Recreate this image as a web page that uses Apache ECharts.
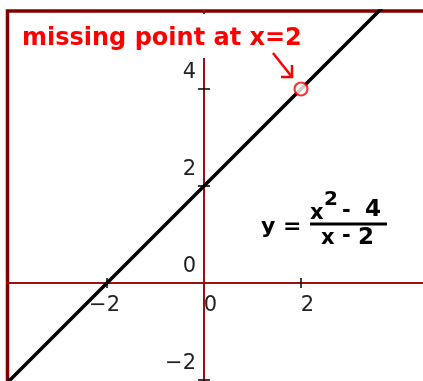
<!DOCTYPE html>
<html>
<head>
<meta charset="utf-8">
<script src="https://cdn.jsdelivr.net/npm/echarts@6/dist/echarts.min.js"></script>
<style>
    html, body { margin: 0; padding: 0; background: #fff; }
    #chartContainer { width: 423px; height: 381px; }
</style>
</head>
<body>
<div id="chartContainer"></div>
<script>
'use strict';
// y = (x^2 - 4) / (x - 2) is the line y = x + 2 with a hole at x = 2
const lineX = [-4.2, 2, 4];
const lineY = [-2.2, 4, 6];
const holeX = [2];
const holeY = [4];
const xTicks = [-2, 2];
const yTicks = [-2, 2, 4];
const xLabels = [-2, 0, 2];
const yLabels = [-2, 0, 2, 4];
const xRange = [-4.052, 4.608];
const yRange = [-2.103, 5.608];

let initChart = (function() {
    let chartContainer = document.getElementById('chartContainer');
    let demoChart = echarts.init(chartContainer);

    let fmt = function(v) {
        return v < 0 ? '\u2212' + Math.abs(v) : String(v);
    };
    let labelFont = 'DejaVu Sans';
    let axisRed = '#9b1111';

    // grid box in pixels; axes are pulled in onto x = 0 / y = 0 with negative offsets
    let gridLeft = 7.5, gridTop = 11, gridW = 420, gridH = 374;
    let zeroX = gridW * (0 - xRange[0]) / (xRange[1] - xRange[0]);
    let zeroY = gridH * (yRange[1] - 0) / (yRange[1] - yRange[0]);

    let option = {
        backgroundColor: '#fff',
        animation: false,
        title: {
            text: 'missing point at x=2',
            left: 18,
            top: 14,
            padding: [13, 4, 7, 4],
            backgroundColor: '#fff',
            textStyle: {
                color: '#ff0000',
                fontWeight: 'bold',
                fontFamily: labelFont,
                fontSize: 24
            }
        },
        grid: {
            left: gridLeft,
            top: gridTop,
            width: gridW,
            height: gridH,
            containLabel: false,
            outerBoundsMode: 'none',
            show: true,
            borderColor: '#800000',
            borderWidth: 3.5,
            backgroundColor: 'transparent'
        },
        xAxis: [{
            type: 'value',
            min: xRange[0],
            max: xRange[1],
            position: 'bottom',
            offset: -(gridH - zeroY),
            axisLine: {
                onZero: false,
                lineStyle: { color: axisRed, width: 2 }
            },
            axisTick: {
                customValues: xTicks,
                length: 5,
                lineStyle: { color: '#000', width: 1.5 }
            },
            axisLabel: {
                customValues: xLabels,
                margin: 12,
                align: 'left',
                formatter: function(v) { return '{t|' + fmt(v) + '}'; },
                rich: {
                    t: {
                        width: 13,
                        align: 'right',
                        fontSize: 21,
                        fontFamily: labelFont,
                        color: '#222'
                    }
                }
            },
            splitLine: { show: false }
        }, {
            type: 'value',
            min: xRange[0],
            max: xRange[1],
            position: 'top',
            offset: -zeroY,
            axisLine: { show: false, onZero: false },
            axisTick: {
                customValues: xTicks,
                length: 5,
                lineStyle: { color: '#000', width: 1.5 }
            },
            axisLabel: { show: false },
            splitLine: { show: false }
        }],
        yAxis: [{
            type: 'value',
            min: yRange[0],
            max: yRange[1],
            position: 'left',
            offset: -zeroX,
            axisLine: {
                onZero: false,
                lineStyle: { color: axisRed, width: 2 }
            },
            axisTick: {
                customValues: yTicks,
                length: 6,
                lineStyle: { color: '#000', width: 1.5 }
            },
            axisLabel: {
                customValues: yLabels,
                margin: 8,
                verticalAlign: 'bottom',
                lineHeight: 32,
                fontSize: 21,
                fontFamily: labelFont,
                color: '#222',
                formatter: fmt
            },
            splitLine: { show: false }
        }, {
            type: 'value',
            min: yRange[0],
            max: yRange[1],
            position: 'right',
            offset: -(gridW - zeroX),
            axisLine: { show: false, onZero: false },
            axisTick: {
                customValues: yTicks,
                length: 6,
                lineStyle: { color: '#000', width: 1.5 }
            },
            axisLabel: { show: false },
            splitLine: { show: false }
        }],
        series: [{
            name: 'y = x + 2',
            type: 'line',
            data: lineX.map(function(x, i) { return [x, lineY[i]]; }),
            showSymbol: false,
            clip: true,
            lineStyle: { color: '#000', width: 3.5 },
            z: 3
        }, {
            name: 'missing point',
            type: 'scatter',
            data: holeX.map(function(x, i) { return [x, holeY[i]]; }),
            symbol: 'circle',
            symbolSize: 13,
            itemStyle: { color: '#fff', borderColor: '#ff0000', borderWidth: 2.2 },
            z: 5
        }],
        graphic: [{
            type: 'polyline',
            shape: { points: [[273, 53], [292, 77]] },
            style: { stroke: '#ff0000', lineWidth: 2.5, fill: null },
            z: 10
        }, {
            type: 'polyline',
            shape: { points: [[292, 65], [292, 77], [281, 77]] },
            style: { stroke: '#ff0000', lineWidth: 2.5, fill: null },
            z: 10
        }, {
            type: 'text',
            x: 261, y: 227,
            style: { text: 'y =', font: 'bold 22px DejaVu Sans', fill: '#000', verticalAlign: 'middle' },
            z: 10
        }, {
            type: 'text',
            x: 310, y: 214,
            style: { text: 'x', font: 'bold 21px DejaVu Sans', fill: '#000', verticalAlign: 'middle' },
            z: 10
        }, {
            type: 'text',
            x: 324, y: 200,
            style: { text: '2', font: 'bold 20px DejaVu Sans', fill: '#000', verticalAlign: 'middle' },
            z: 10
        }, {
            type: 'text',
            x: 342, y: 212,
            style: { text: '-', font: 'bold 21px DejaVu Sans', fill: '#000', verticalAlign: 'middle' },
            z: 10
        }, {
            type: 'text',
            x: 365, y: 210,
            style: { text: '4', font: 'bold 23px DejaVu Sans', fill: '#000', verticalAlign: 'middle' },
            z: 10
        }, {
            type: 'rect',
            shape: { x: 310, y: 222.5, width: 77, height: 3 },
            style: { fill: '#000' },
            z: 10
        }, {
            type: 'text',
            x: 321, y: 239,
            style: { text: 'x', font: 'bold 21px DejaVu Sans', fill: '#000', verticalAlign: 'middle' },
            z: 10
        }, {
            type: 'text',
            x: 342, y: 237,
            style: { text: '-', font: 'bold 21px DejaVu Sans', fill: '#000', verticalAlign: 'middle' },
            z: 10
        }, {
            type: 'text',
            x: 358, y: 238,
            style: { text: '2', font: 'bold 23px DejaVu Sans', fill: '#000', verticalAlign: 'middle' },
            z: 10
        }]
    };

    demoChart.setOption(option);
})();
</script>
</body>
</html>
